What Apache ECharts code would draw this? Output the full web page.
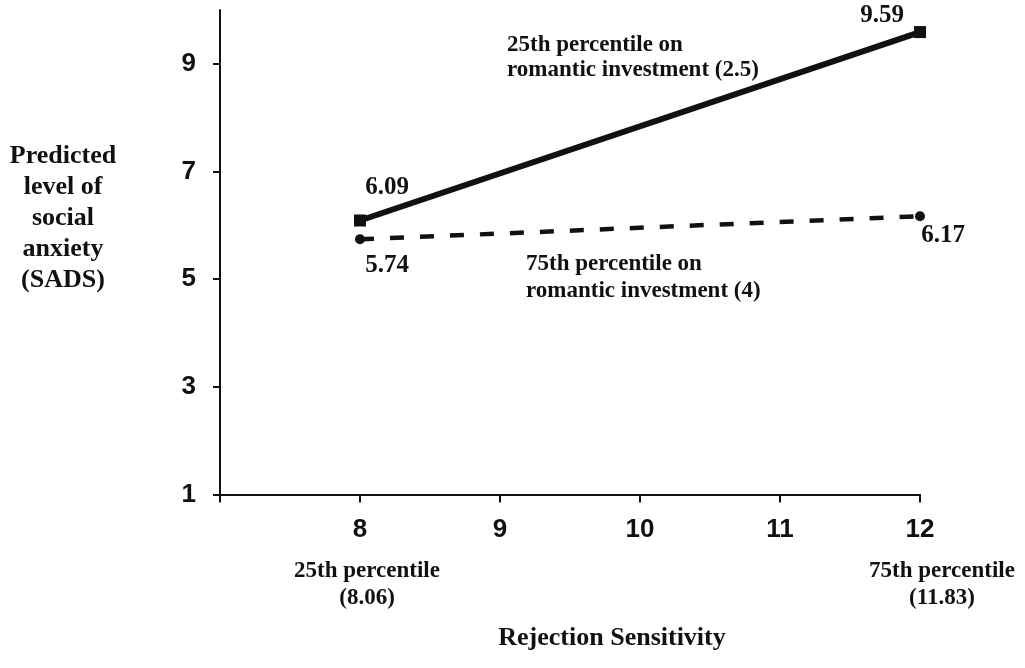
<!DOCTYPE html>
<html>
<head>
<meta charset="utf-8">
<script src="https://cdn.jsdelivr.net/npm/echarts@6/dist/echarts.min.js"></script>
<style>
html,body{margin:0;padding:0;background:#fff;}
#chart{width:1025px;height:668px;}
</style>
</head>
<body>
<div id="chart"></div>
<script>
// ---- data ----
var rejectionSensitivity = [8, 12];
var lowInvestment = [6.09, 9.59];   // 25th percentile on romantic investment (2.5)
var highInvestment = [5.74, 6.17];  // 75th percentile on romantic investment (4)
var xTickLabels = [8, 9, 10, 11, 12];
var yTickLabels = [1, 3, 5, 7, 9];

var SERIF = '"Liberation Serif","Times New Roman",serif';
var SANS = '"Liberation Sans",Arial,sans-serif';

function pairs(xs, ys) {
  return xs.map(function (x, i) { return [x, ys[i]]; });
}

function withLabels(points, offsets) {
  return points.map(function (p, i) {
    return {
      value: p,
      label: {
        show: true,
        position: 'inside',
        offset: offsets[i],
        align: 'center',
        verticalAlign: 'middle',
        formatter: function (d) { return d.value[1].toFixed(2); },
        fontFamily: SERIF,
        fontWeight: 'bold',
        fontSize: 25,
        color: '#111'
      }
    };
  });
}

var chart = echarts.init(document.getElementById('chart'), null, { renderer: 'canvas' });

chart.setOption({
  backgroundColor: '#fff',
  animation: false,
  grid: { left: 220, right: 105, top: 10, bottom: 173.5, containLabel: false },
  xAxis: {
    type: 'value',
    min: 7, max: 12, interval: 1,
    axisLine: { show: true, lineStyle: { color: '#111', width: 2 } },
    axisTick: { show: true, length: 8, lineStyle: { color: '#111', width: 2 } },
    axisLabel: {
      customValues: xTickLabels,
      margin: 22,
      fontFamily: SANS, fontWeight: 'bold', fontSize: 26, color: '#111'
    },
    splitLine: { show: false }
  },
  yAxis: {
    type: 'value',
    min: 1, max: 10,
    axisLine: { show: true, lineStyle: { color: '#111', width: 2 } },
    axisTick: { show: true, length: 7, customValues: yTickLabels, lineStyle: { color: '#111', width: 2 } },
    axisLabel: {
      customValues: yTickLabels,
      margin: 24,
      fontFamily: SANS, fontWeight: 'bold', fontSize: 26, color: '#111'
    },
    splitLine: { show: false }
  },
  series: [
    {
      type: 'line',
      data: withLabels(pairs(rejectionSensitivity, lowInvestment), [[27, -33], [-38, -17]]),
      symbol: 'rect', symbolSize: 12,
      itemStyle: { color: '#111' },
      lineStyle: { color: '#111', width: 6, type: 'solid' },
      z: 3
    },
    {
      type: 'line',
      data: withLabels(pairs(rejectionSensitivity, highInvestment), [[27, 26], [23, 19]]),
      symbol: 'circle', symbolSize: 10,
      itemStyle: { color: '#111' },
      lineStyle: { color: '#111', width: 4.5, type: [14, 16] },
      z: 3
    }
  ],
  graphic: [
    {
      type: 'text',
      style: {
        x: 507, y: 58,
        text: '25th percentile on\nromantic investment (2.5)',
        font: 'bold 23px ' + SERIF, fill: '#111',
        textAlign: 'left', textVerticalAlign: 'middle', lineHeight: 25
      }
    },
    {
      type: 'text',
      style: {
        x: 526, y: 278,
        text: '75th percentile on\nromantic investment (4)',
        font: 'bold 23px ' + SERIF, fill: '#111',
        textAlign: 'left', textVerticalAlign: 'middle', lineHeight: 27
      }
    },
    {
      type: 'text',
      style: {
        x: 63, y: 218,
        text: 'Predicted\nlevel of\nsocial\nanxiety\n(SADS)',
        font: 'bold 26px ' + SERIF, fill: '#111',
        textAlign: 'center', textVerticalAlign: 'middle', lineHeight: 31
      }
    },
    {
      type: 'text',
      style: {
        x: 367, y: 585,
        text: '25th percentile\n(8.06)',
        font: 'bold 23px ' + SERIF, fill: '#111',
        textAlign: 'center', textVerticalAlign: 'middle', lineHeight: 27
      }
    },
    {
      type: 'text',
      style: {
        x: 942, y: 585,
        text: '75th percentile\n(11.83)',
        font: 'bold 23px ' + SERIF, fill: '#111',
        textAlign: 'center', textVerticalAlign: 'middle', lineHeight: 27
      }
    },
    {
      type: 'text',
      style: {
        x: 612, y: 638,
        text: 'Rejection Sensitivity',
        font: 'bold 26px ' + SERIF, fill: '#111',
        textAlign: 'center', textVerticalAlign: 'middle'
      }
    }
  ]
});
</script>
</body>
</html>
